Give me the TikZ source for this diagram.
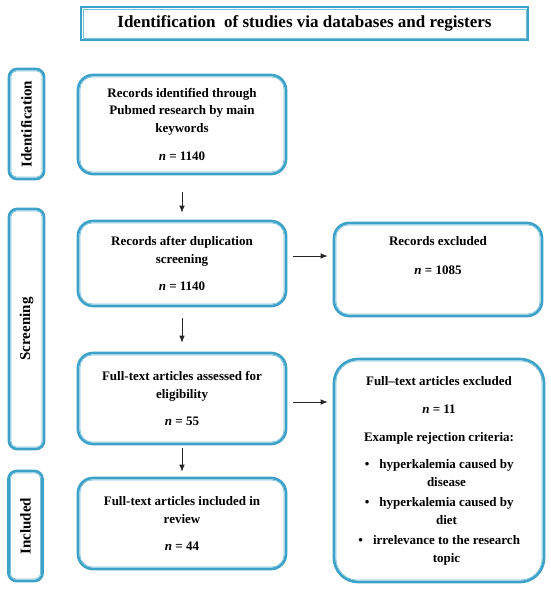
\documentclass[tikz,border=0pt]{standalone}
\usepackage{fontspec}
\setmainfont{Liberation Serif}
\usepackage{graphicx}
\usetikzlibrary{calc, arrows.meta}
\definecolor{frame}{RGB}{62, 162, 200}
\definecolor{framelite}{RGB}{122, 194, 220}

\begin{document}
\begin{tikzpicture}[x=1pt, y=-1pt,
    stage/.style={draw=frame, line width=2.7pt, fill=white, rounded corners=#1,
      inner sep=0pt, align=center, font=\bfseries\fontsize{13}{17.5}\selectfont},
    side/.style={stage=8pt, font=\bfseries\fontsize{15}{18}\selectfont},
    flow/.style={draw=black!85, line width=0.7pt, -{Latex[length=7pt, width=5.5pt]}}]

  \useasboundingbox (0, 0) rectangle (550, 589);

  % title
  \node[stage=0pt, minimum width=447pt, minimum height=33pt,
    font=\bfseries\fontsize{17}{20}\selectfont] (title) at (304.5, 23.5)
    {Identification\ \ of studies via databases and registers};

  % phases
  \node[side, minimum width=35pt, minimum height=110pt] (ident) at (26.5, 124)
    {\rotatebox{90}{Identification}};
  \node[side, minimum width=35pt, minimum height=240pt] (screen) at (26.5, 329)
    {\rotatebox{90}{Screening}};
  \node[side, minimum width=34pt, minimum height=110pt] (incl) at (25.5, 526)
    {\rotatebox{90}{Included}};

  % main column
  \node[stage=15pt, minimum width=208pt, minimum height=99pt] (found) at (182, 124.5)
    {Records identified through\\ Pubmed research by main\\ keywords\\[11pt] \textit{n} = 1140};
  \node[stage=15pt, minimum width=208pt, minimum height=85pt] (dedup) at (182, 263.5)
    {Records after duplication\\ screening\\[10pt] \textit{n} = 1140};
  \node[stage=15pt, minimum width=208pt, minimum height=91pt] (assess) at (182, 398.5)
    {Full-text articles assessed for\\ eligibility\\[10pt] \textit{n} = 55};
  \node[stage=15pt, minimum width=208pt, minimum height=91pt] (review) at (182, 523.5)
    {Full-text articles included in\\ review\\[10pt] \textit{n} = 44};

  % exclusions
  \node[stage=15pt, minimum width=208pt, minimum height=93pt] (dropped) at (438, 269.5)
    {Records excluded\\[11pt] \textit{n} = 1085\\[11pt] ~};
  \node[stage=24pt, minimum width=210pt, minimum height=223pt] (rejected) at (439, 470.5)
    {Full--text articles excluded\\[11pt]
     \textit{n} = 11\\[10pt]
     Example rejection criteria:\\[10pt]
     \hspace*{15pt}\llap{\textbullet\hspace{10pt}}hyperkalemia caused by\\
     \hspace*{15pt}disease\\[3pt]
     \hspace*{15pt}\llap{\textbullet\hspace{10pt}}hyperkalemia caused by\\
     \hspace*{15pt}diet\\[3pt]
     \hspace*{15pt}\llap{\textbullet\hspace{10pt}}irrelevance to the research\\
     \hspace*{15pt}topic};

  % inner lines of the frames
  \foreach \b/\r in {title/0, ident/5, screen/5, incl/5, found/12, dedup/12,
      assess/12, review/12, dropped/12, rejected/21} {
    \draw[framelite, line width=0.7pt, rounded corners=\r pt]
      ($(\b.south west)+(3.4pt, 3.4pt)$) rectangle ($(\b.north east)+(-3.4pt, -3.4pt)$);
  }

  % arrows
  \draw[flow, shorten <=17pt, shorten >=7pt] (found.south) -- (dedup.north);
  \draw[flow, shorten <=11pt, shorten >=9pt] (dedup.south) -- (assess.north);
  \draw[flow, shorten <=3pt, shorten >=5pt] (assess.south) -- (review.north);
  \draw[flow, shorten <=6pt, shorten >=5pt] ([yshift=7.5pt]dedup.east) -- ([yshift=13.5pt]dropped.west);
  \draw[flow, shorten <=6pt, shorten >=5pt] ([yshift=-3.5pt]assess.east) -- ([yshift=68.5pt]rejected.west);

\end{tikzpicture}
\end{document}
